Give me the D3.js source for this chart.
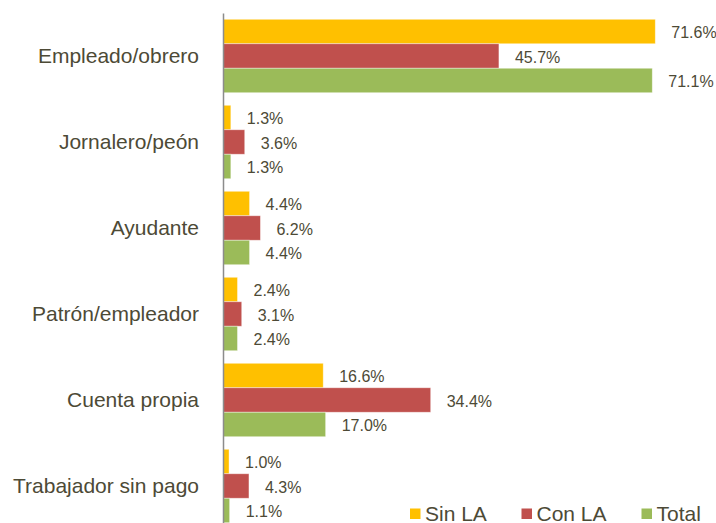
<!DOCTYPE html>
<html>
<head>
<meta charset="utf-8">
<script src="https://cdn.jsdelivr.net/npm/d3@7"></script>
<style>
  body { margin: 0; background: #fff; }
  text { font-family: "Liberation Sans", Arial, sans-serif; }
</style>
</head>
<body>
<svg width="716" height="523"></svg>
<script>
const categories = ["Empleado/obrero", "Jornalero/peón", "Ayudante", "Patrón/empleador", "Cuenta propia", "Trabajador sin pago"];
const series = ["Sin LA", "Con LA", "Total"];
const sinLA = [71.6, 1.3, 4.4, 2.4, 16.6, 1.0];
const conLA = [45.7, 3.6, 6.2, 3.1, 34.4, 4.3];
const total = [71.1, 1.3, 4.4, 2.4, 17.0, 1.1];
const colors = ["#FFC000", "#C0504D", "#9BBB59"];

const values = [sinLA, conLA, total];
const svg = d3.select("svg");
const textColor = "#4d4a36";

const x = d3.scaleLinear().domain([0, 71.6]).range([223, 655.3]);
const y = d3.scaleBand().domain(categories).range([13, 529]).paddingInner(0.146).paddingOuter(0.073);
const ys = d3.scaleBand().domain(series).range([0, y.bandwidth()]);

const groups = svg.selectAll("g.cat")
  .data(categories)
  .join("g")
  .attr("class", "cat")
  .attr("transform", d => `translate(0,${y(d)})`);

groups.each(function(cat, i) {
  const g = d3.select(this);
  const rows = series.map((s, j) => ({ s, v: values[j][i], c: colors[j] }));
  g.selectAll("rect")
    .data(rows)
    .join("rect")
    .attr("x", x(0))
    .attr("y", d => ys(d.s))
    .attr("width", d => x(d.v) - x(0))
    .attr("height", ys.bandwidth())
    .attr("fill", d => d.c)
    .attr("stroke", "#fff")
    .attr("stroke-opacity", 0.5)
    .attr("stroke-width", 0.8);
  g.selectAll("text.val")
    .data(rows)
    .join("text")
    .attr("class", "val")
    .attr("x", d => x(d.v) + 16)
    .attr("y", d => ys(d.s) + ys.bandwidth() / 2 + 1)
    .attr("dy", "0.35em")
    .attr("font-size", 16)
    .attr("fill", textColor)
    .text(d => d.v.toFixed(1) + "%");
});

// category axis
const axis = svg.append("g")
  .attr("transform", `translate(${x(0)},0)`)
  .call(d3.axisLeft(y).tickSize(0).tickPadding(24));
axis.select(".domain").attr("stroke", "#8c8c8c").attr("stroke-width", 1.5);
axis.selectAll("text")
  .attr("font-size", 21)
  .attr("font-family", "'Liberation Sans', Arial, sans-serif")
  .attr("fill", textColor);

// legend
const legendX = [410, 521.5, 641.5];
const legend = svg.selectAll("g.leg")
  .data(series)
  .join("g")
  .attr("class", "leg")
  .attr("transform", (d, i) => `translate(${legendX[i]},508.5)`);
legend.append("rect")
  .attr("width", 10.5).attr("height", 10.5)
  .attr("fill", (d, i) => colors[i]);
legend.append("text")
  .attr("x", 15).attr("y", 12.5)
  .attr("font-size", 21)
  .attr("fill", textColor)
  .text(d => d);
</script>
</body>
</html>
